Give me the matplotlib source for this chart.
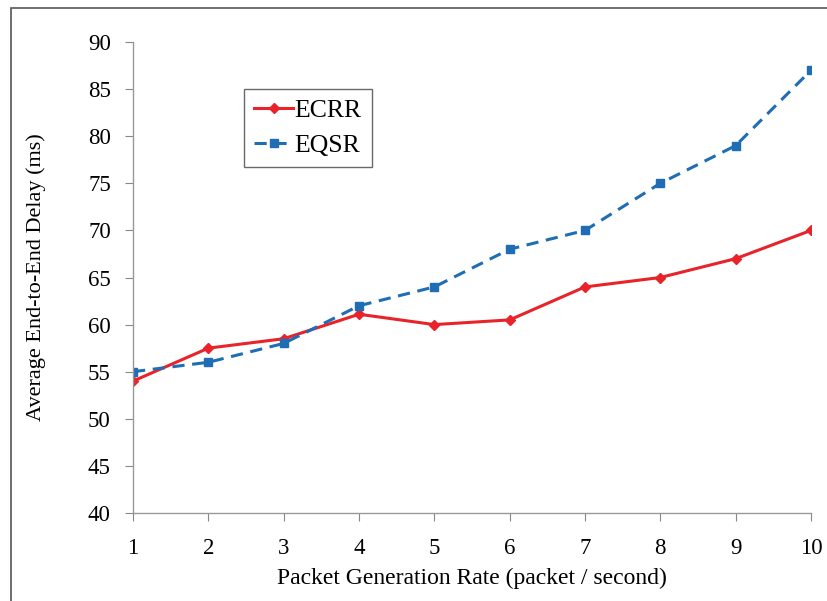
import matplotlib
matplotlib.use("Agg")
import matplotlib.pyplot as plt
from matplotlib.patches import Rectangle

rates = [1, 2, 3, 4, 5, 6, 7, 8, 9, 10]
ecrr = [54, 57.5, 58.5, 61.1, 60, 60.5, 64, 65, 67, 70]
eqsr = [55, 56, 58, 62, 64, 68, 70, 75, 79, 87]

plt.rcParams['font.family'] = ['Liberation Serif', 'DejaVu Serif']

fig = plt.figure(figsize=(8.27, 6.01), dpi=100)
W, H = 827, 601
ax = fig.add_axes([133 / W, 1 - 513 / H, (811 - 133) / W, (513 - 42) / H])

ax.plot(rates, ecrr, color='#e8232a', lw=2.2, marker='D', ms=5, label='ECRR')
ax.plot(rates, eqsr, color='#1f6db5', lw=2.2, ls=(0, (4, 2.5)), marker='s', ms=6,
        label='EQSR')

ax.set_xlim(1, 10)
ax.set_ylim(40, 90)
ax.set_xticks(rates)
ax.set_yticks(range(40, 91, 5))
ax.tick_params(direction='out', length=6, color='#888888', labelsize=16.5)
ax.tick_params(axis='y', pad=10)
ax.tick_params(axis='x', pad=12)
for s in ['top', 'right']:
    ax.spines[s].set_visible(False)
for s in ['left', 'bottom']:
    ax.spines[s].set_color('#999999')
    ax.spines[s].set_linewidth(1.0)

ax.set_xlabel('Packet Generation Rate (packet / second)', fontsize=17,
              labelpad=6)
ax.set_ylabel('Average End-to-End Delay (ms)', fontsize=16, labelpad=30)

leg = ax.legend(loc='upper left', bbox_to_anchor=((244 - 133) / (811 - 133), 1 - (89 - 42) / (513 - 42)),
                fontsize=18.5, frameon=True, fancybox=False, handlelength=1.5,
                handletextpad=0.05, borderpad=0.4, labelspacing=0.45,
                borderaxespad=0)
leg.get_frame().set_edgecolor('#444444')
leg.get_frame().set_linewidth(1.0)

# outer frame around figure
fig.patches.append(Rectangle((11 / W, -0.01), 1.02, 1 - 8 / H + 0.01,
                             transform=fig.transFigure, fill=False,
                             edgecolor='#555555', lw=1.2))

fig.savefig('out.png', dpi=100)
